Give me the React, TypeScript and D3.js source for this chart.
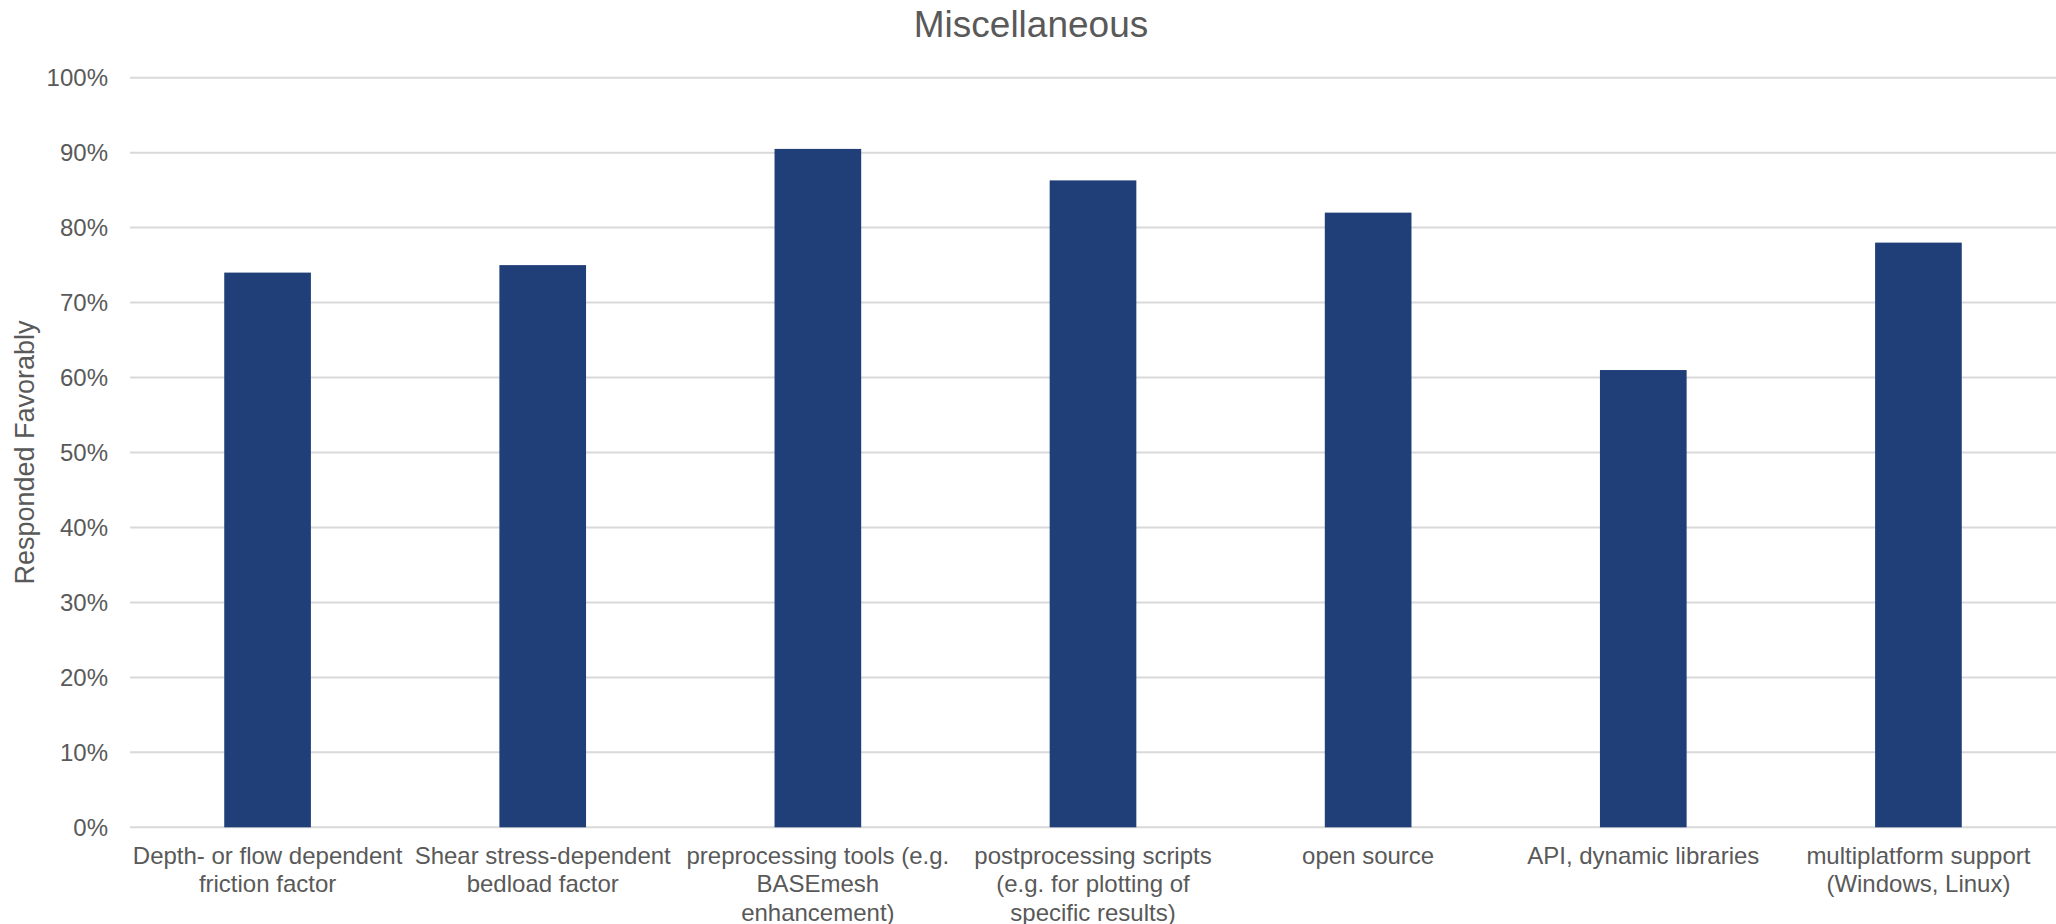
import React from "react";
import * as d3 from "d3";

const categories: string[][] = [
  ["Depth- or flow dependent", "friction factor"],
  ["Shear stress-dependent", "bedload factor"],
  ["preprocessing tools (e.g.", "BASEmesh", "enhancement)"],
  ["postprocessing scripts", "(e.g. for plotting of", "specific results)"],
  ["open source"],
  ["API, dynamic libraries"],
  ["multiplatform support", "(Windows, Linux)"],
];
const values: number[] = [0.74, 0.75, 0.905, 0.863, 0.82, 0.61, 0.78];
const yTicks: number[] = [0, 0.1, 0.2, 0.3, 0.4, 0.5, 0.6, 0.7, 0.8, 0.9, 1.0];
const title = "Miscellaneous";
const yTitle = "Responded Favorably";

const W = 2056;
const H = 924;
const left = 130;
const right = 2056;
const top = 77.7;
const bottom = 827.3;
const font = "'Liberation Sans', Arial, sans-serif";
const textColor = "#595959";

export default function App() {
  const x = d3
    .scaleBand<number>()
    .domain(d3.range(categories.length))
    .range([left, right])
    .paddingInner(0.685)
    .paddingOuter(0.3425);
  const y = d3.scaleLinear().domain([0, 1]).range([bottom, top]);
  const fmt = d3.format(".0%");

  return (
    <svg
      width={W}
      height={H}
      style={{ position: "absolute", left: 0, top: 0, background: "#fff" }}
      fontFamily={font}
    >
      <rect x={0} y={0} width={W} height={H} fill="#fff" />
      <text x={1031} y={37} textAnchor="middle" fontSize={37} fill={textColor}>
        {title}
      </text>
      {yTicks.map((t) => (
        <g key={t}>
          <line x1={left} x2={right} y1={y(t)} y2={y(t)} stroke="#d9d9d9" strokeWidth={2} />
          <text
            x={108}
            y={y(t)}
            dy="0.35em"
            textAnchor="end"
            fontSize={24}
            fill={textColor}
          >
            {fmt(t)}
          </text>
        </g>
      ))}
      {values.map((v, i) => (
        <rect
          key={i}
          x={x(i)}
          y={y(v)}
          width={x.bandwidth()}
          height={y(0) - y(v)}
          fill="#203F78"
        />
      ))}
      {categories.map((lines, i) => (
        <text
          key={i}
          x={(x(i) as number) + x.bandwidth() / 2}
          y={863.5}
          textAnchor="middle"
          fontSize={24}
          fill={textColor}
        >
          {lines.map((l, j) => (
            <tspan key={j} x={(x(i) as number) + x.bandwidth() / 2} dy={j === 0 ? 0 : 28.5}>
              {l}
            </tspan>
          ))}
        </text>
      ))}
      <text
        transform={`translate(34,${(top + bottom) / 2}) rotate(-90)`}
        textAnchor="middle"
        fontSize={27}
        fill={textColor}
      >
        {yTitle}
      </text>
    </svg>
  );
}
